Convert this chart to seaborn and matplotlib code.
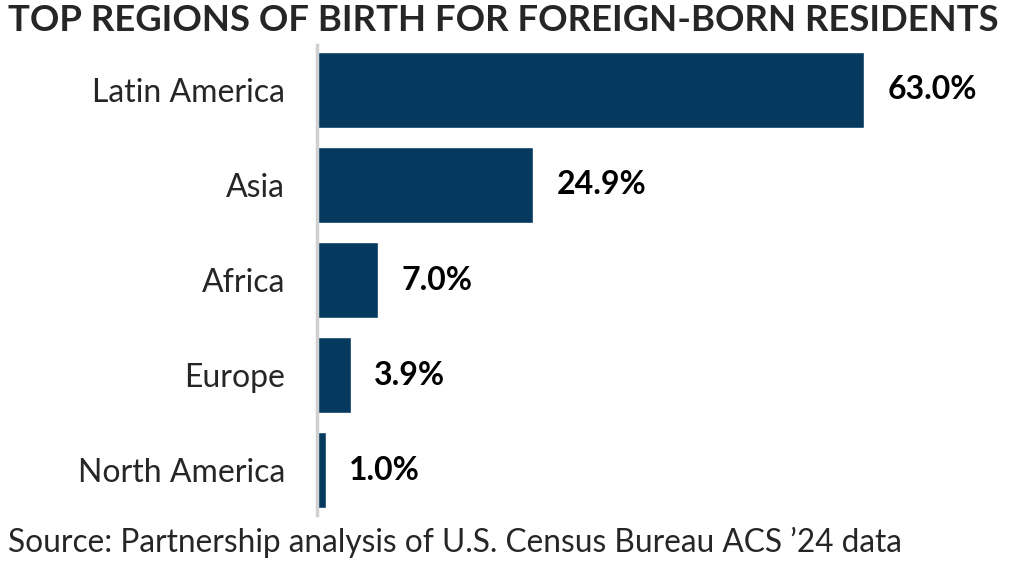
import pandas as pd
import matplotlib
matplotlib.use("Agg")
import matplotlib.pyplot as plt
import seaborn as sns

# data
regions = ["Latin America", "Asia", "Africa", "Europe", "North America"]
shares = [0.630, 0.249, 0.070, 0.039, 0.010]
labels = ["63.0%", "24.9%", "7.0%", "3.9%", "1.0%"]

df = pd.DataFrame({"region": regions, "share": shares})

sns.set_style("white")
plt.rcParams["font.family"] = ["Lato", "DejaVu Sans"]

fig = plt.figure(figsize=(10.14, 5.65), dpi=100)
ax = fig.add_axes([0.3125, 0.0885, 0.6, 0.8315])

sns.barplot(data=df, x="share", y="region", color="#053a5e", saturation=1,
            width=0.8, ax=ax)

ax.set_xlim(0, 0.70)
ax.set_ylim(4.47, -0.47)
ax.set_xlabel("")
ax.set_ylabel("")
ax.set_xticks([])
ax.tick_params(axis="y", length=0, pad=23, labelsize=23)

for s in ["top", "right", "bottom"]:
    ax.spines[s].set_visible(False)
ax.spines["left"].set_color("#d0d0d0")
ax.spines["left"].set_linewidth(2.5)

for i, (v, lab) in enumerate(zip(shares, labels)):
    ax.text(v + 0.027, i, lab, va="center", ha="left", fontsize=23,
            fontweight="bold", color="black", clip_on=False)

fig.text(0.008, 0.963, "TOP REGIONS OF BIRTH FOR FOREIGN-BORN RESIDENTS",
         fontsize=26.3, fontweight="bold", ha="left", va="center")
fig.text(0.008, 0.04, "Source: Partnership analysis of U.S. Census Bureau ACS \u201924 data",
         fontsize=22.8, ha="left", va="center")

fig.savefig("out.png", dpi=100)
